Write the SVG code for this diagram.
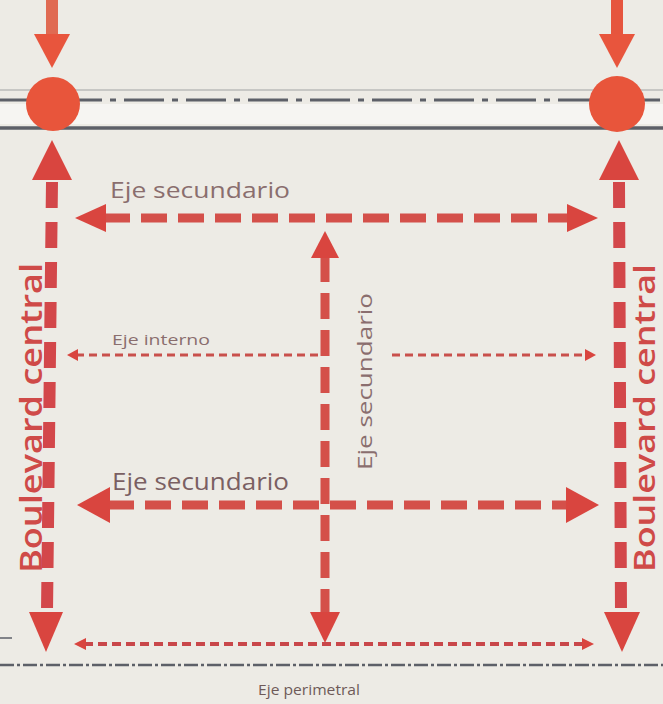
<svg xmlns="http://www.w3.org/2000/svg" width="663" height="704" viewBox="0 0 663 704">
<defs>
<style>
.bg{fill:#edebe5}
.road{stroke:#5d6068;fill:none}
.blvd{stroke:#d3474a;stroke-width:12;stroke-dasharray:26 14;fill:none}
.sec{stroke:#d4504a;stroke-width:9;stroke-dasharray:26 11;fill:none}
.thin{stroke:#c9504c;stroke-width:3;stroke-dasharray:8 5;fill:none}
.perim{stroke:#c9474a;stroke-width:4;stroke-dasharray:9 5;fill:none}
.head{fill:#d9453f}
.headtop{fill:#e8553d}
.node{fill:#e8553b}
.lblB{font-family:"Open Sans","Noto Sans",sans-serif;font-weight:600;fill:#cf4a48}
.lbl{font-family:"Open Sans","Noto Sans",sans-serif;fill:#8a6e6e}
</style>
</defs>
<rect class="bg" x="0" y="0" width="663" height="704"/>
<g id="road-top">
<line class="road" x1="0" y1="90" x2="663" y2="90" stroke-width="1.5" opacity="0.35"/>
<line class="road" x1="0" y1="100" x2="663" y2="100" stroke-width="3" stroke-dasharray="40 8 6 8"/>
<rect x="0" y="104" width="663" height="20" fill="#f6f5f2"/>
<line class="road" x1="0" y1="128" x2="663" y2="128" stroke-width="3.5"/>
</g>
<g id="road-bottom">
<line class="road" x1="0" y1="665" x2="663" y2="665" stroke-width="2.5" stroke-dasharray="14 3 3 3"/>
<line class="road" x1="0" y1="638" x2="12" y2="638" stroke-width="1.5"/>
</g>
<g id="connectors">
<line x1="52" y1="0" x2="52" y2="38" stroke="#e06a52" stroke-width="12"/>
<polygon class="headtop" points="34,34 70,34 52,68"/>
<line x1="617" y1="0" x2="617" y2="38" stroke="#e6553e" stroke-width="12"/>
<polygon class="headtop" points="599,34 635,34 617,68"/>
<path class="blvd" d="M52,182 L47,612"/>
<polygon class="head" points="52,140 72,180 32,180"/>
<polygon class="head" points="29,612 63,612 46,652"/>
<path class="blvd" d="M619,182 L621,612"/>
<polygon class="head" points="619,140 639,180 599,180"/>
<polygon class="head" points="604,612 640,612 622,652"/>
<line class="sec" x1="104" y1="218" x2="570" y2="218"/>
<polygon class="head" points="75,218 106,204 106,232"/>
<polygon class="head" points="598,218 567,204 567,232"/>
<line class="sec" x1="325" y1="256" x2="325" y2="614"/>
<polygon class="head" points="325,231 339,258 311,258"/>
<polygon class="head" points="310,612 340,612 325,643"/>
<line class="sec" x1="108" y1="505" x2="570" y2="505" stroke-width="10"/>
<polygon class="head" points="77,505 110,487 110,523"/>
<polygon class="head" points="599,505 566,487 566,523"/>
<line class="thin" x1="76" y1="355" x2="320" y2="355"/>
<polygon class="head" points="67,355 78,349 78,361"/>
<line class="thin" x1="392" y1="355" x2="586" y2="355"/>
<polygon class="head" points="596,355 585,349 585,361"/>
<line class="perim" x1="84" y1="644" x2="585" y2="644"/>
<polygon class="head" points="74,644 86,638 86,650"/>
<polygon class="head" points="594,644 582,638 582,650"/>
</g>
<g id="node-left"><circle class="node" cx="53" cy="104" r="27"/></g>
<g id="node-right"><circle class="node" cx="617" cy="104" r="28"/></g>
<g id="labels">
<text class="lblB" font-size="30" transform="translate(42,573) rotate(-90)" textLength="310" lengthAdjust="spacingAndGlyphs">Boulevard central</text>
<text class="lblB" font-size="28" transform="translate(655,572) rotate(-90)" textLength="308" lengthAdjust="spacingAndGlyphs">Boulevard central</text>
<text class="lbl" font-size="21" x="110" y="198" textLength="180" lengthAdjust="spacingAndGlyphs">Eje secundario</text>
<text class="lbl" font-size="20" transform="translate(372,470) rotate(-90)" textLength="177" lengthAdjust="spacingAndGlyphs">Eje secundario</text>
<text class="lbl" font-size="14" x="112" y="345" textLength="98" lengthAdjust="spacingAndGlyphs">Eje interno</text>
<text class="lbl" font-size="23" x="112" y="490" style="fill:#7a5f62" textLength="177" lengthAdjust="spacingAndGlyphs">Eje secundario</text>
<text class="lbl" font-size="14" x="258" y="695" style="fill:#6e5a58" textLength="102" lengthAdjust="spacingAndGlyphs">Eje perimetral</text>
</g>
</svg>
